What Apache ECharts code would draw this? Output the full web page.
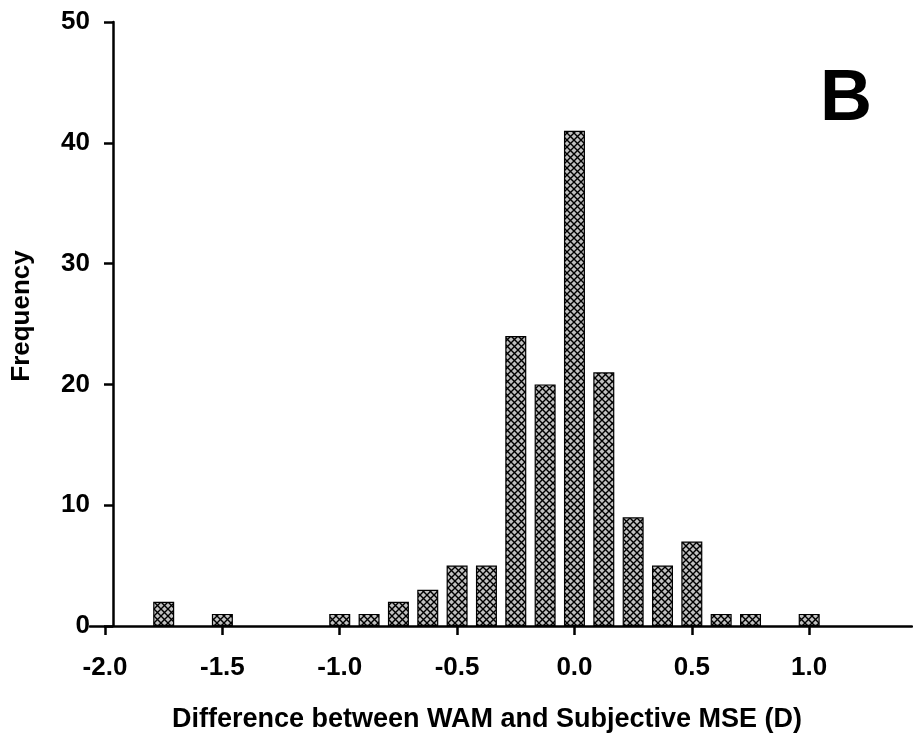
<!DOCTYPE html>
<html>
<head>
<meta charset="utf-8">
<script src="https://cdn.jsdelivr.net/npm/echarts@6/dist/echarts.min.js"></script>
<style>html,body{margin:0;padding:0;background:#fff}#c{width:913px;height:738px}</style>
</head>
<body>
<div id="c"></div>
<script>
// Bin centers (D) and frequencies
var binCenters = [-1.75, -1.5, -1.0, -0.875, -0.75, -0.625, -0.5, -0.375, -0.25, -0.125, 0.0, 0.125, 0.25, 0.375, 0.5, 0.625, 0.75, 1.0];
var frequencies = [2, 1, 1, 1, 2, 3, 5, 5, 24, 20, 41, 21, 9, 5, 7, 1, 1, 1];
var xTicks = [-2.0, -1.5, -1.0, -0.5, 0.0, 0.5, 1.0];
var yTicks = [0, 10, 20, 30, 40, 50];
var xTitle = 'Difference between WAM and Subjective MSE (D)';
var yTitle = 'Frequency';
var panelLabel = 'B';

// crosshatch pattern tile
var tile = document.createElement('canvas');
tile.width = 7; tile.height = 7;
var g = tile.getContext('2d');
g.fillStyle = '#c0c0c0';
g.fillRect(0, 0, 7, 7);
g.strokeStyle = '#000';
g.lineWidth = 1.4;
g.beginPath();
g.moveTo(-1, -1); g.lineTo(8, 8);
g.moveTo(8, -1); g.lineTo(-1, 8);
g.stroke();

var data = binCenters.map(function (x, i) { return [x, frequencies[i]]; });
var font = '"Liberation Sans", Arial, sans-serif';

var chart = echarts.init(document.getElementById('c'), null, { renderer: 'canvas' });
chart.setOption({
  animation: false,
  backgroundColor: '#fff',
  grid: { left: 90, right: 1, top: 22, bottom: 112, containLabel: false },
  xAxis: {
    type: 'value',
    min: -2.064,
    max: 1.438,
    splitLine: { show: false },
    axisLine: { lineStyle: { color: '#000', width: 2.5 } },
    axisTick: { show: true, length: 9, inside: false, customValues: xTicks, lineStyle: { color: '#000', width: 2.5 } },
    axisLabel: {
      customValues: xTicks,
      margin: 29,
      color: '#000',
      fontFamily: font,
      fontWeight: 'bold',
      fontSize: 26,
      formatter: function (v) { return (Math.abs(v) < 1e-9 ? 0 : v).toFixed(1); }
    },
    name: xTitle,
    nameLocation: 'middle',
    nameGap: 80,
    nameTextStyle: { color: '#000', fontFamily: font, fontWeight: 'bold', fontSize: 27, padding: [0, 28, 0, 0] }
  },
  yAxis: {
    type: 'value',
    min: 0,
    max: 50,
    interval: 10,
    offset: -23,
    splitLine: { show: false },
    axisLine: { onZero: false, lineStyle: { color: '#000', width: 2.5 } },
    axisTick: { show: true, length: 9, inside: false, lineStyle: { color: '#000', width: 2.5 } },
    axisLabel: {
      margin: 23,
      color: '#000',
      fontFamily: font,
      fontWeight: 'bold',
      fontSize: 26
    },
    name: yTitle,
    nameLocation: 'middle',
    nameGap: 78,
    nameRotate: 90,
    nameTextStyle: { color: '#000', fontFamily: font, fontWeight: 'bold', fontSize: 26, padding: [0, 0, 0, 16] }
  },
  graphic: [{
    type: 'text',
    left: 820,
    top: 64,
    style: { text: panelLabel, fill: '#000', font: 'bold 72px "Liberation Sans", Arial, sans-serif' }
  }],
  series: [{
    type: 'bar',
    data: data,
    barWidth: 21,
    itemStyle: {
      color: { image: tile, repeat: 'repeat' },
      borderColor: '#000',
      borderWidth: 1.2
    }
  }]
});
</script>
</body>
</html>
